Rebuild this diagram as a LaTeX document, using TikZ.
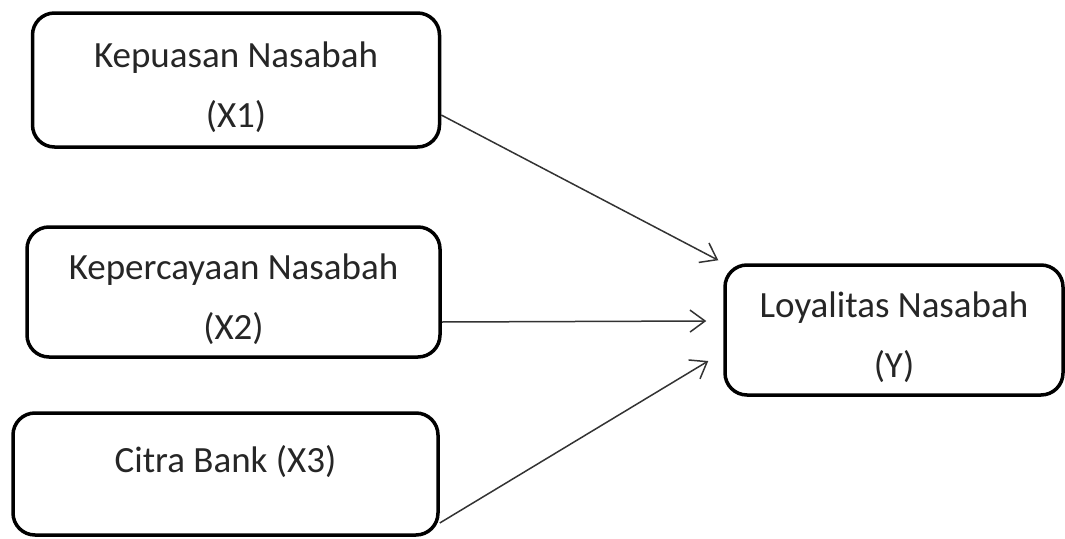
\documentclass[tikz,border=0pt]{standalone}
\usepackage{fontspec}
\setmainfont{Carlito}
\usetikzlibrary{calc,positioning,arrows.meta}

\begin{document}
\begin{tikzpicture}[x=1pt,y=-1pt]
      \tikzstyle{var}=[rectangle,draw,rounded corners=22pt,line width=3.5pt,align=center,inner sep=0pt,text=black!85,font=\fontsize{37}{60}\selectfont,text height=104pt,text depth=9pt]
      \tikzstyle{link}=[-{Straight Barb[length=15pt,width=22pt]},line width=1.5pt,draw=black!80]
      \useasboundingbox (0,0) rectangle (1065,538);
      \node[var,minimum width=407pt,minimum height=134pt] (kepuasan) at (236,80) {Kepuasan Nasabah\\(X1)};
      \node[var,minimum width=413pt,minimum height=130pt] (kepercayaan) at (233.5,292) {Kepercayaan Nasabah\\(X2)};
      \node[var,minimum width=425pt,minimum height=122pt,text height=28pt,text depth=31pt] (citra) at (225.5,474) {Citra Bank (X3)};
      \node[var,minimum width=338pt,minimum height=130pt] (loyalitas) at (894,330) {Loyalitas Nasabah\\(Y)};

      \draw[link] ($(kepuasan.east)+(0,35)$) -- ($(loyalitas.north west)+(-5,-3)$);
      \draw[link] ($(kepercayaan.east)+(0,30)$) -- ($(loyalitas.west)+(-17,-9)$);
      \draw[link] ($(citra.east)+(0,49)$) -- ($(loyalitas.west)+(-15,31)$);
\end{tikzpicture}
\end{document}
